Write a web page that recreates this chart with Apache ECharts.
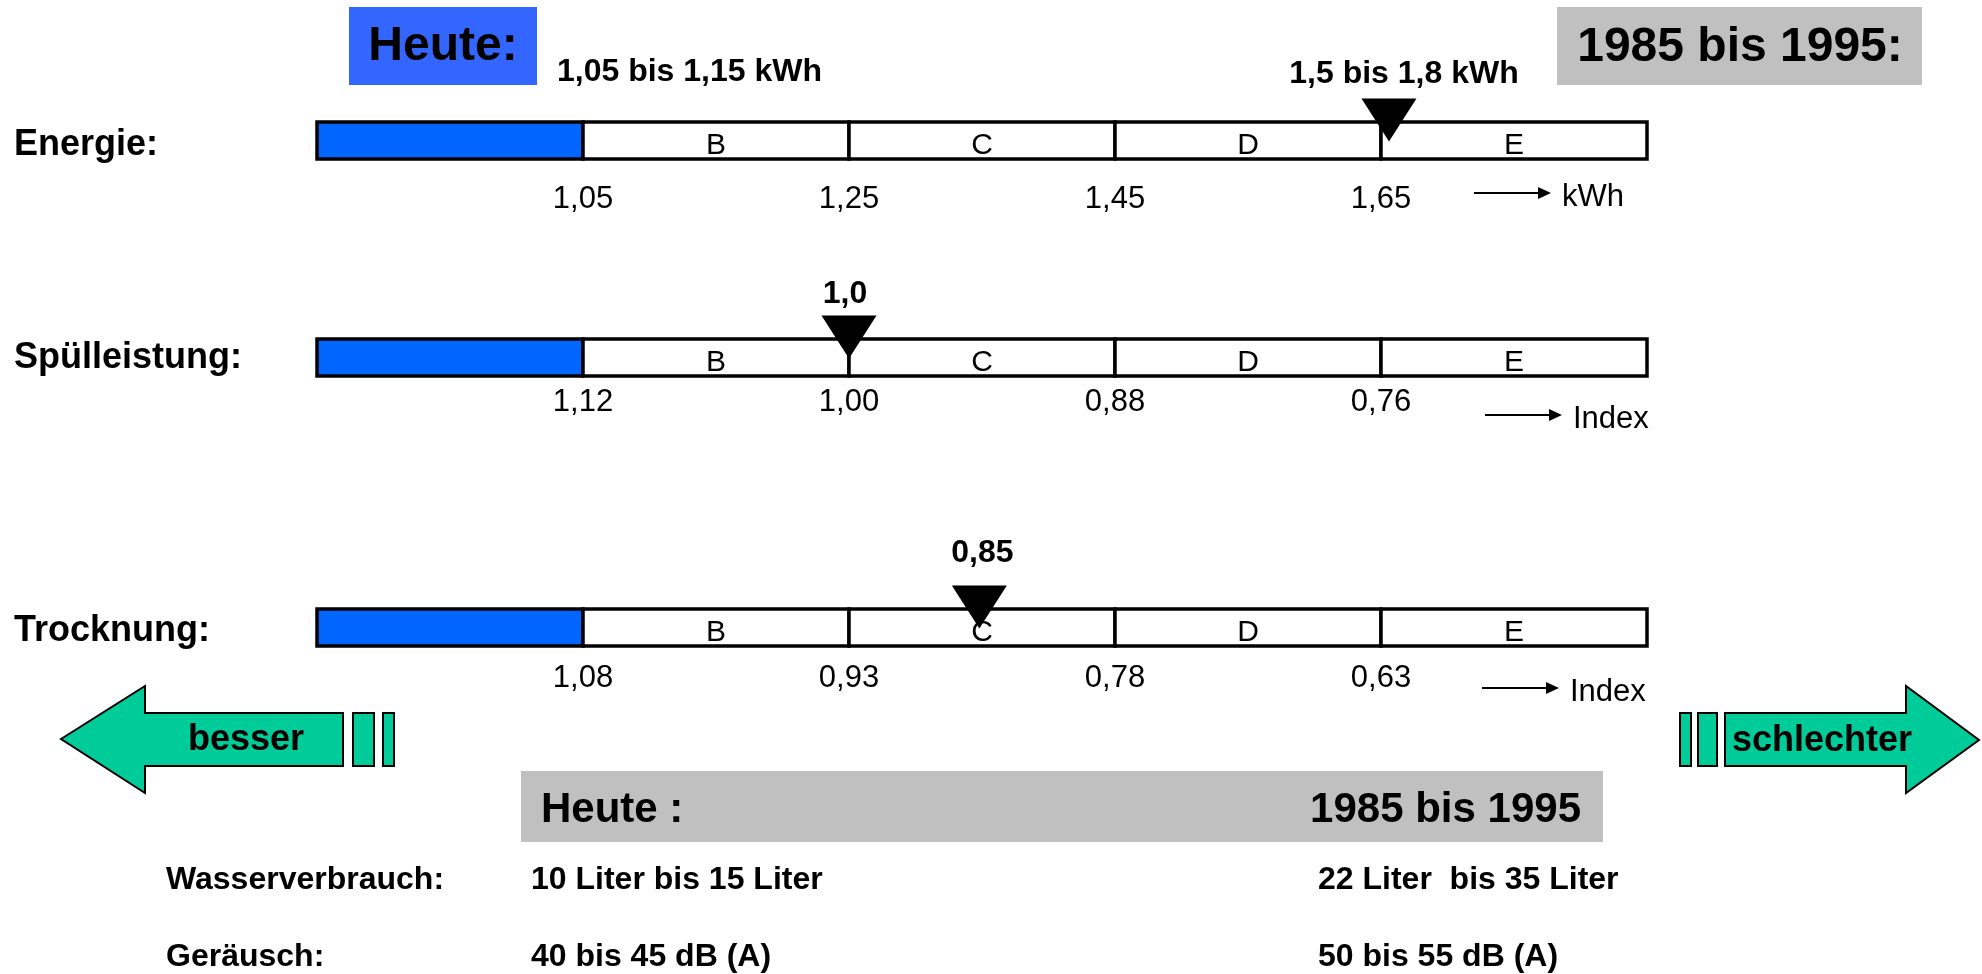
<!DOCTYPE html>
<html>
<head>
<meta charset="utf-8">
<title>Geschirrspüler: Heute / 1985 bis 1995</title>
<script src="https://cdn.jsdelivr.net/npm/echarts@6/dist/echarts.min.js"></script>
<style>
html, body { margin: 0; padding: 0; background: #fff; }
#chart { width: 1982px; height: 974px; }
</style>
</head>
<body>
<div id="chart"></div>
<script>
// Skalen-Zeilen
var rowLabels = ['Energie:', 'Spülleistung:', 'Trocknung:'];
var classLetters = ['', 'B', 'C', 'D', 'E'];
var tickLabels = [
  ['1,05', '1,25', '1,45', '1,65'],
  ['1,12', '1,00', '0,88', '0,76'],
  ['1,08', '0,93', '0,78', '0,63']
];
var units = ['kWh', 'Index', 'Index'];
// Lage der Dreiecke auf der Klassenskala (0 = linker Rand, 5 = rechter Rand)
var markerPos = [4.03, 2.0, 2.49];
var markerText = ['1,5 bis 1,8 kWh', '1,0', '0,85'];
var todayText = '1,05 bis 1,15 kWh';

// Tabelle unten
var tableHead = ['Heute :', '1985 bis 1995'];
var tableRows = [
  ['Wasserverbrauch:', '10 Liter bis 15 Liter', '22 Liter  bis 35 Liter'],
  ['Geräusch:', '40 bis 45 dB (A)', '50 bis 55 dB (A)']
];

var FONT = '"Liberation Sans", Arial, sans-serif';
// Layout je Zeile
var rowTop = [122, 339, 609];
var rowLabelY = [145, 358, 631];
var tickMargin = [24.5, 11, 17];
var markerDist = [8, 5, 16];
var markerShiftX = [15, -4, 3];
var unitArrowY = [193, 415, 688];
var unitTextX = [1562, 1573, 1570];

function txt(x, y, s, size, weight, align) {
  return {
    type: 'text', x: x, y: y, z: 10,
    style: {
      text: s, fill: '#000',
      font: weight + ' ' + size + 'px ' + FONT,
      align: align || 'left', verticalAlign: 'middle'
    }
  };
}

function renderSegment(params, api) {
  var p0 = api.coord([api.value(0), 0]);
  var p1 = api.coord([api.value(1), 1]);
  var idx = api.value(2);
  var w = p1[0] - p0[0];
  var h = p0[1] - p1[1];
  return {
    type: 'group',
    children: [
      {
        type: 'rect',
        shape: { x: p0[0], y: p1[1], width: w, height: h },
        style: { fill: idx === 0 ? '#0066FF' : '#fff', stroke: '#000', lineWidth: 3.5 }
      },
      {
        type: 'text', x: p0[0] + w / 2, y: p1[1] + h / 2 + 5,
        style: {
          text: classLetters[idx], fill: '#000', font: 'normal 30px ' + FONT,
          align: 'center', verticalAlign: 'middle'
        }
      }
    ]
  };
}

var grids = [], xAxes = [], yAxes = [], series = [];
var segData = classLetters.map(function (l, i) { return [i, i + 1, i]; });

rowLabels.forEach(function (lab, i) {
  grids.push({ left: 317, width: 1330, top: rowTop[i], height: 37 });
  xAxes.push({
    gridIndex: i, type: 'value', min: 0, max: 5, interval: 1,
    axisLine: { show: false }, axisTick: { show: false }, splitLine: { show: false },
    axisLabel: {
      margin: tickMargin[i], fontSize: 31, lineHeight: 31, color: '#000', fontFamily: FONT,
      formatter: function (v) { return (v >= 1 && v <= 4) ? tickLabels[i][v - 1] : ''; }
    }
  });
  yAxes.push({ gridIndex: i, type: 'value', min: 0, max: 1, show: false });
  series.push({
    type: 'custom', xAxisIndex: i, yAxisIndex: i,
    renderItem: renderSegment, data: segData, encode: { x: [0, 1] }, z: 2
  });
  series.push({
    type: 'scatter', xAxisIndex: i, yAxisIndex: i, clip: false, z: 5,
    data: [[markerPos[i], 1]],
    symbol: 'path://M0 0L2 0L1 1.6Z', symbolSize: [55, 43], symbolOffset: [0, -2],
    itemStyle: { color: '#000', opacity: 1 },
    label: {
      show: true, position: 'top', distance: markerDist[i], offset: [markerShiftX[i], 0],
      formatter: markerText[i], fontSize: 32, fontWeight: 'bold', color: '#000', fontFamily: FONT
    }
  });
});

var graphics = [];
// Kopf-Kästen
graphics.push({ type: 'rect', shape: { x: 349, y: 7, width: 188, height: 78 }, style: { fill: '#3366FF' } });
graphics.push(txt(443, 47, 'Heute:', 48, 'bold', 'center'));
graphics.push({ type: 'rect', shape: { x: 1557, y: 7, width: 365, height: 78 }, style: { fill: '#C0C0C0' } });
graphics.push(txt(1740, 48, '1985 bis 1995:', 48, 'bold', 'center'));
graphics.push(txt(557, 72, todayText, 32, 'bold'));

// Zeilenbeschriftung und Einheiten
rowLabels.forEach(function (lab, i) {
  graphics.push(txt(14, rowLabelY[i], lab, 36, 'bold'));
  var ax = unitTextX[i] - 88, ay = unitArrowY[i];
  graphics.push({ type: 'line', shape: { x1: ax, y1: ay, x2: ax + 66, y2: ay }, style: { stroke: '#000', lineWidth: 2 } });
  graphics.push({ type: 'polygon', shape: { points: [[ax + 64, ay - 6], [ax + 77, ay], [ax + 64, ay + 6]] }, style: { fill: '#000' } });
  graphics.push(txt(unitTextX[i], ay + 4, units[i], 31, 'normal'));
});

// Pfeile besser / schlechter
var arrowStyle = { fill: '#00CC99', stroke: '#000', lineWidth: 2 };
graphics.push({ type: 'polygon', shape: { points: [[61, 739], [145, 686], [145, 713], [343, 713], [343, 766], [145, 766], [145, 793]] }, style: arrowStyle });
graphics.push({ type: 'rect', shape: { x: 353, y: 713, width: 21, height: 53 }, style: arrowStyle });
graphics.push({ type: 'rect', shape: { x: 383, y: 713, width: 11, height: 53 }, style: arrowStyle });
graphics.push(txt(246, 740, 'besser', 36, 'bold', 'center'));
graphics.push({ type: 'polygon', shape: { points: [[1725, 713], [1906, 713], [1906, 686], [1979, 740], [1906, 793], [1906, 766], [1725, 766]] }, style: arrowStyle });
graphics.push({ type: 'rect', shape: { x: 1680, y: 713, width: 11, height: 53 }, style: arrowStyle });
graphics.push({ type: 'rect', shape: { x: 1698, y: 713, width: 19, height: 53 }, style: arrowStyle });
graphics.push(txt(1822, 741, 'schlechter', 36, 'bold', 'center'));

// Tabelle
graphics.push({ type: 'rect', shape: { x: 521, y: 771, width: 1082, height: 71 }, style: { fill: '#C0C0C0' } });
graphics.push(txt(541, 810, tableHead[0], 42, 'bold'));
graphics.push(txt(1581, 810, tableHead[1], 42, 'bold', 'right'));
var colX = [166, 531, 1318];
var rowY = [880, 957];
tableRows.forEach(function (r, ri) {
  r.forEach(function (s, ci) {
    graphics.push(txt(colX[ci], rowY[ri], s, 32, 'bold'));
  });
});

var myChart = echarts.init(document.getElementById('chart'));
myChart.setOption({
  animation: false,
  backgroundColor: '#fff',
  grid: grids,
  xAxis: xAxes,
  yAxis: yAxes,
  series: series,
  graphic: graphics
});
</script>
</body>
</html>
